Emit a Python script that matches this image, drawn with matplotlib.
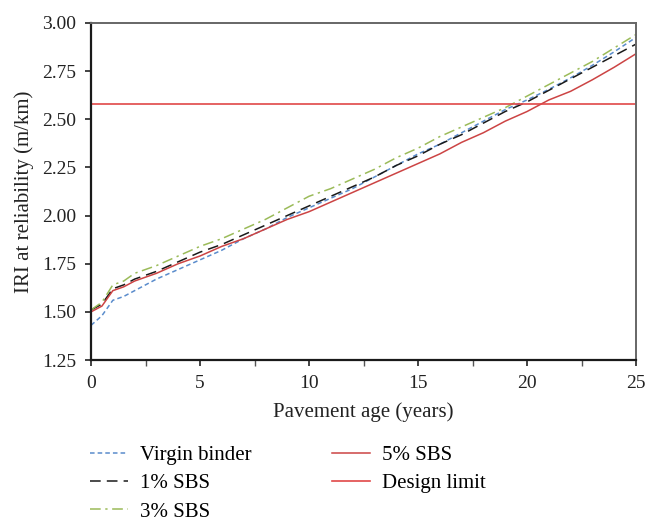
import matplotlib
matplotlib.use("Agg")
import matplotlib.pyplot as plt
import numpy as np

plt.rcParams['font.family'] = ['Liberation Serif', 'DejaVu Serif']

# pavement age (years)
years = [0, 0.5, 1, 1.5, 2, 3, 4, 5, 6, 7, 8, 9, 10, 11, 12, 13,
         14, 15, 16, 17, 18, 19, 20, 21, 22, 23, 24, 25]

# IRI at reliability (m/km)
virgin = [1.43, 1.48, 1.56, 1.58, 1.61, 1.67, 1.72, 1.77, 1.82, 1.88, 1.93, 1.99, 2.04, 2.09,
          2.14, 2.20, 2.26, 2.32, 2.37, 2.43, 2.49, 2.55, 2.60, 2.655, 2.715, 2.78, 2.85, 2.925]
sbs1 = [1.51, 1.54, 1.62, 1.64, 1.67, 1.71, 1.76, 1.81, 1.85, 1.90, 1.95, 2.00, 2.05, 2.10,
        2.15, 2.20, 2.26, 2.31, 2.37, 2.42, 2.48, 2.54, 2.59, 2.65, 2.71, 2.77, 2.83, 2.89]
sbs3 = [1.51, 1.55, 1.64, 1.66, 1.70, 1.74, 1.79, 1.84, 1.88, 1.93, 1.98, 2.04, 2.10, 2.14,
        2.19, 2.24, 2.30, 2.35, 2.41, 2.46, 2.51, 2.56, 2.62, 2.68, 2.74, 2.80, 2.87, 2.94]
sbs5 = [1.50, 1.53, 1.61, 1.63, 1.66, 1.70, 1.75, 1.79, 1.84, 1.88, 1.93, 1.98, 2.02, 2.07,
        2.12, 2.17, 2.22, 2.27, 2.32, 2.38, 2.43, 2.49, 2.54, 2.60, 2.645, 2.705, 2.77, 2.84]
design_limit = 2.58

fig = plt.figure(figsize=(6.61, 5.21), dpi=100)
ax = fig.add_axes([0.1377, 0.309, 0.8245, 0.647])

ax.plot(years, virgin, color='#5a8ccc', lw=1.1, dashes=(3, 2), label='Virgin binder')
ax.plot(years, sbs1, color='#1a1a1a', lw=1.1, dashes=(7, 4), label='1% SBS')
ax.plot(years, sbs3, color='#9bbb59', lw=1.1, dashes=(7, 3, 1.5, 3), label='3% SBS')
ax.plot(years, sbs5, color='#cc4444', lw=1.1, label='5% SBS')
ax.axhline(design_limit, color='#e04848', lw=1.2, label='Design limit')

ax.set_xlim(0, 25)
ax.set_ylim(1.25, 3.00)
ax.set_xticks(np.arange(0, 26, 5))
ax.set_xticks(np.arange(0, 26, 2.5), minor=True)
ax.set_yticks(np.arange(1.25, 3.01, 0.25))
ax.set_yticklabels([f"{v:.2f}" for v in np.arange(1.25, 3.01, 0.25)])
ax.tick_params(direction='out', length=4.5, width=1.2, labelsize=14, colors='#222222')
ax.tick_params(axis='x', pad=6)
ax.tick_params(axis='y', pad=6)
ax.tick_params(which='minor', direction='out', length=4.5, width=1.0, color='#555555')

for side in ['left', 'bottom']:
    ax.spines[side].set_color('#1a1a1a')
    ax.spines[side].set_linewidth(1.6)
for side in ['top', 'right']:
    ax.spines[side].set_color('#666666')
    ax.spines[side].set_linewidth(1.4)

ax.set_xlabel('Pavement age (years)', fontsize=15, color='#222222', labelpad=8)
ax.set_ylabel('IRI at reliability (m/km)', fontsize=15, color='#222222', labelpad=6)

fig.legend(loc='upper left', bbox_to_anchor=(0.1236, 0.161), ncol=2, frameon=False,
           fontsize=15, handlelength=1.8, handletextpad=0.58, columnspacing=3.9,
           labelspacing=0.42, borderaxespad=0)

fig.savefig('out.png', dpi=100)
